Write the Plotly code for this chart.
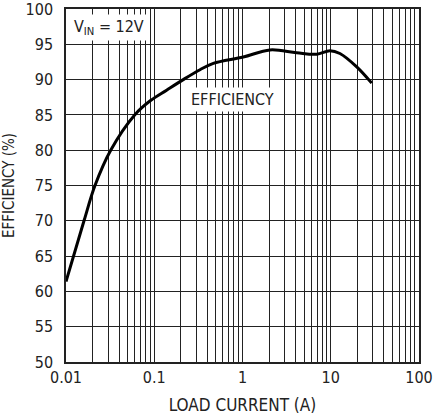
import numpy as np
import plotly.graph_objects as go

# Efficiency curve
load_current = [0.01, 0.016, 0.0213, 0.0321, 0.06, 0.09, 0.138, 0.213, 0.33, 0.467,
                1.02, 2.05, 4.11, 6.93, 9.78, 12.7, 19.7, 29.1]
efficiency = [61.4, 70.0, 75.0, 80.0, 85.0, 87.0, 88.5, 90.0, 91.4, 92.3,
              93.2, 94.2, 93.8, 93.6, 94.1, 93.7, 91.8, 89.5]

decades = [0.01, 0.1, 1, 10, 100]
y_ticks = list(range(50, 101, 5))

font = "Liberation Sans Narrow, DejaVu Sans Condensed, Arial, sans-serif"

fig = go.Figure()
fig.add_trace(go.Scatter(x=load_current, y=efficiency, mode="lines",
                         line=dict(color="black", width=3, shape="spline", smoothing=1.0),
                         showlegend=False, hoverinfo="skip"))

fig.update_layout(
    width=435, height=420,
    margin=dict(l=66, r=16, t=9, b=58),
    paper_bgcolor="white", plot_bgcolor="white",
    font=dict(family=font, color="#222222", size=16),
    xaxis=dict(type="log", range=[-2, 2], tickvals=decades, ticktext=["%g" % v for v in decades],
               showgrid=True, gridcolor="#222222", gridwidth=1,
               minor=dict(dtick="D1", showgrid=True, gridcolor="#222222", gridwidth=1, ticks=""),
               showline=True, linecolor="#222222", linewidth=1.5, mirror=True,
               ticks="", zeroline=False, automargin=False, ticklabeloverflow="allow",
               title=dict(text="LOAD CURRENT (A)", font=dict(size=17), standoff=13)),
    yaxis=dict(range=[50, 100], tickvals=y_ticks,
               showgrid=True, gridcolor="#222222", gridwidth=1,
               showline=True, linecolor="#222222", linewidth=1.5, mirror=True,
               ticks="", zeroline=False, automargin=False, ticklabelstandoff=8,
               ticklabeloverflow="allow",
               title=dict(text="EFFICIENCY (%)", font=dict(size=15), standoff=15)),
    annotations=[
        dict(x=np.log10(0.0115), y=99.3, xref="x", yref="y", xanchor="left", yanchor="top",
             text="V<sub>IN</sub> = 12V", showarrow=False, bgcolor="white",
             font=dict(size=16), borderpad=2),
        dict(x=np.log10(0.78), y=87.25, xref="x", yref="y",
             text="EFFICIENCY", showarrow=False, bgcolor="white",
             font=dict(size=16), borderpad=2),
    ],
)

# page body has a default 8px margin that shifts the figure
fig.write_html("out.html", config={"displayModeBar": False},
               post_script="document.body.style.margin='0px';")
